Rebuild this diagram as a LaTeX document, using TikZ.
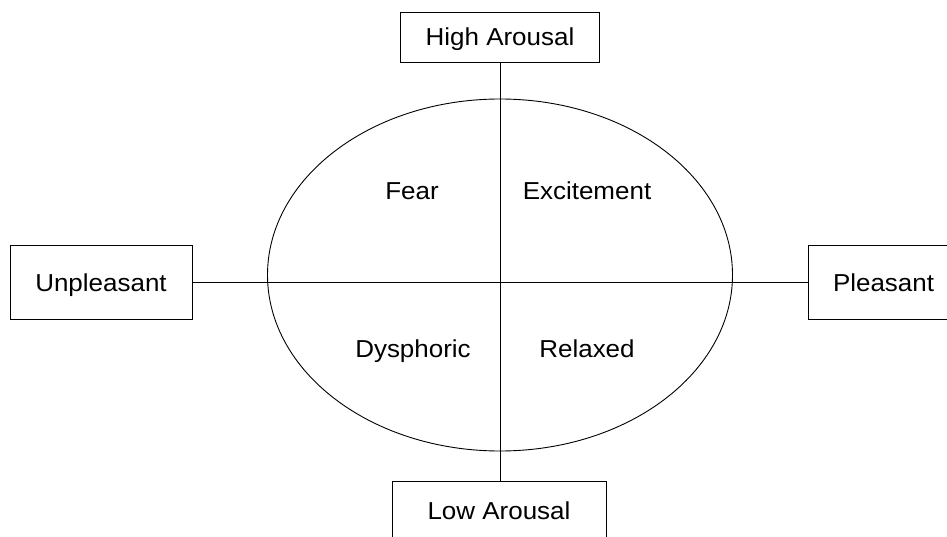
\documentclass[tikz,border=0pt]{standalone}
\usepackage{fontspec}
\setmainfont{Liberation Sans}[FakeStretch=1.06]
\begin{document}
\begin{tikzpicture}[x=1pt,y=-1pt,
  every node/.style={font=\fontsize{24.5}{29}\selectfont},
  axisbox/.style={draw=black, line width=0.9pt, fill=white, inner sep=0pt,
    text height=18pt, text depth=0pt},
  quadlabel/.style={anchor=base, inner sep=0pt},
  axisline/.style={draw=black, line width=0.9pt}]
  \useasboundingbox (0,0) rectangle (947,537);
  \clip (0,0) rectangle (947,537);
  \fill[white] (0,0) rectangle (947,537);

  % emotion ellipse
  \coordinate (mid) at (500,275);
  \draw[axisline] (mid) ellipse [x radius=232.5pt, y radius=176pt];

  % axis end boxes
  \node[axisbox, minimum width=199pt, minimum height=50pt] (high) at (500,37) {High Arousal};
  \node[axisbox, minimum width=214pt, minimum height=74pt, text depth=16pt] (low) at (499,518) {Low Arousal};
  \node[axisbox, minimum width=182pt, minimum height=74pt] (unpl) at (101,282) {Unpleasant};
  \node[axisbox, minimum width=400pt, minimum height=74pt,
    text width=350pt, align=left] (pleas) at (1008,282) {Pleasant};

  % axes
  \draw[axisline] (high.south) -- (high.south |- low.north);
  \draw[axisline] (unpl.east) -- (pleas.west);

  % quadrant labels
  \node[quadlabel] (fear) at (412,200) {Fear};
  \node[quadlabel] (exc) at (587,200) {Excitement};
  \node[quadlabel] (dys) at (413,357) {Dysphoric};
  \node[quadlabel] (rel) at (587,357) {Relaxed};
\end{tikzpicture}
\end{document}
